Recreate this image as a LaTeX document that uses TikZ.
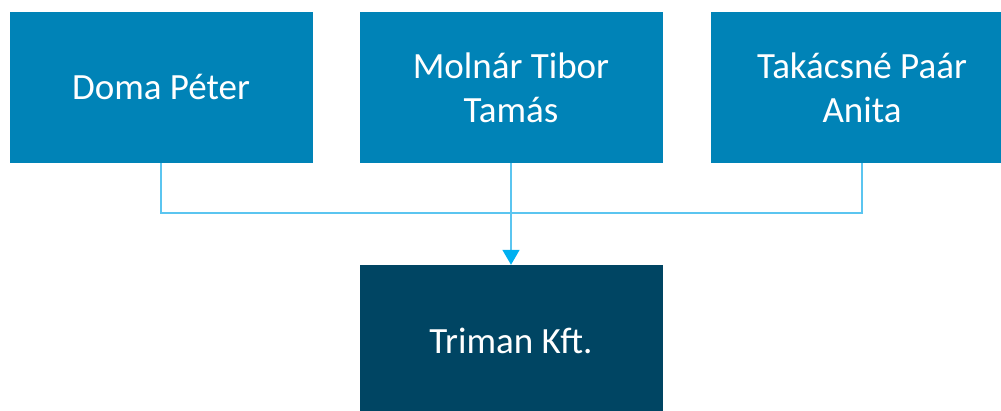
\documentclass[tikz,border=0pt]{standalone}
\usepackage{fontspec}
\setmainfont{Carlito}
\usetikzlibrary{arrows.meta,positioning,calc}

\definecolor{ownerblue}{RGB}{0,131,183}
\definecolor{firmblue}{RGB}{0,69,99}
\definecolor{linkblue}{RGB}{91,197,240}
\definecolor{tipblue}{RGB}{0,176,240}

\begin{document}
\begin{tikzpicture}[x=1pt,y=1pt,
  owner/.style={fill=ownerblue, draw=none, text=white, minimum width=303pt, minimum height=151pt, align=center, font=\fontsize{37}{44}\selectfont, inner sep=0pt},
  firm/.style={owner, fill=firmblue},
  link/.style={draw=linkblue, line width=1.6pt}
]
\useasboundingbox (0,0) rectangle (1001,410);

\node[owner] (doma) at (161,322.5) {Doma Péter};
\node[owner] (molnar) at (511,322.5) {Molnár Tibor\\Tamás};
\node[owner] (takacs) at (862,322.5) {Takácsné Paár\\Anita};
\node[firm] (triman) at (511,69.5) {Triman Kft.};

\coordinate (join) at (molnar.south |- 0,197);
\draw[link] (doma.south) |- (join) -| (takacs.south);
\draw[link,-{Triangle[length=15pt,width=17pt,color=tipblue]}] (molnar.south) -- (triman.north);
\end{tikzpicture}
\end{document}
